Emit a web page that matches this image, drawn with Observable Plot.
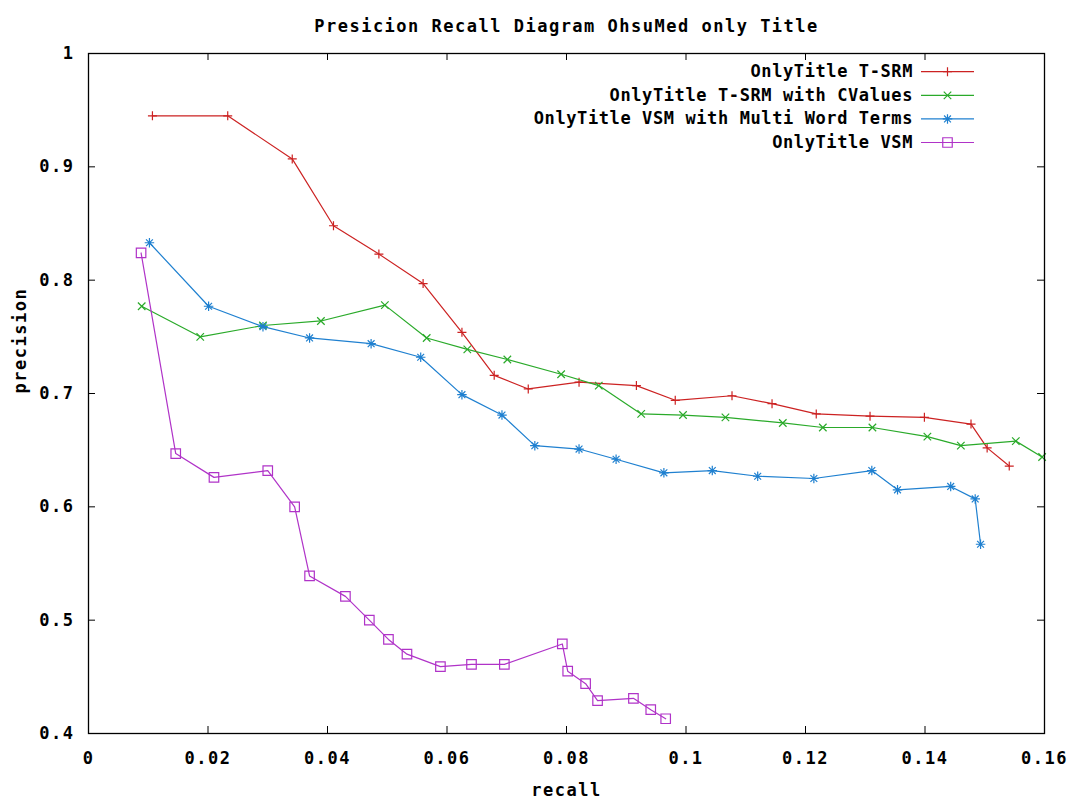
<!DOCTYPE html>
<html><head><meta charset="utf-8">
<script src="https://cdn.jsdelivr.net/npm/d3@7"></script>
<script src="https://cdn.jsdelivr.net/npm/@observablehq/plot@0.6"></script>
<style>body{margin:0;background:#fff}</style>
</head><body><div id="chart"></div>
<script>
const titleText = "Presicion Recall Diagram OhsuMed only Title";
const xLabel = "recall";
const yLabel = "precision";
const xTicks = [0, 0.02, 0.04, 0.06, 0.08, 0.1, 0.12, 0.14, 0.16];
const yTicks = [0.4, 0.5, 0.6, 0.7, 0.8, 0.9, 1];

const seriesNames = ["OnlyTitle T-SRM", "OnlyTitle T-SRM with CValues", "OnlyTitle VSM with Multi Word Terms", "OnlyTitle VSM"];
const seriesColors = ["#cc2222", "#2aaa2a", "#1f80d0", "#b033c8"];
const seriesSymbols = ["plus", "times", "star", "square"];

const tsrmRecall = [0.0107, 0.0233, 0.0341, 0.0410, 0.0486, 0.0560, 0.0625, 0.0679, 0.0736, 0.0821, 0.0917, 0.0982, 0.1077, 0.1144, 0.1218, 0.1308, 0.1399, 0.1477, 0.1504, 0.1541];
const tsrmPrecision = [0.945, 0.945, 0.907, 0.848, 0.823, 0.797, 0.754, 0.716, 0.704, 0.710, 0.707, 0.694, 0.698, 0.691, 0.682, 0.680, 0.679, 0.673, 0.652, 0.636];

const cvalRecall = [0.0089, 0.0187, 0.0292, 0.0389, 0.0496, 0.0566, 0.0634, 0.0701, 0.0791, 0.0854, 0.0925, 0.0995, 0.1066, 0.1162, 0.1229, 0.1312, 0.1404, 0.1460, 0.1552, 0.1596];
const cvalPrecision = [0.777, 0.750, 0.760, 0.764, 0.778, 0.749, 0.739, 0.730, 0.717, 0.707, 0.682, 0.681, 0.679, 0.674, 0.670, 0.670, 0.662, 0.654, 0.658, 0.644];

const mwtRecall = [0.0102, 0.0201, 0.0292, 0.0370, 0.0473, 0.0556, 0.0625, 0.0692, 0.0747, 0.0821, 0.0883, 0.0963, 0.1044, 0.1120, 0.1214, 0.1311, 0.1354, 0.1443, 0.1484, 0.1493];
const mwtPrecision = [0.833, 0.777, 0.759, 0.749, 0.744, 0.732, 0.699, 0.681, 0.654, 0.651, 0.642, 0.630, 0.632, 0.627, 0.625, 0.632, 0.615, 0.618, 0.607, 0.567];

const vsmRecall = [0.0088, 0.0146, 0.0210, 0.0300, 0.0345, 0.0370, 0.0430, 0.0470, 0.0502, 0.0533, 0.0589, 0.0641, 0.0696, 0.0793, 0.0802, 0.0832, 0.0852, 0.0912, 0.0941, 0.0966];
const vsmPrecision = [0.824, 0.647, 0.626, 0.632, 0.600, 0.539, 0.521, 0.500, 0.483, 0.470, 0.459, 0.461, 0.461, 0.479, 0.455, 0.444, 0.429, 0.431, 0.421, 0.413];

const recallSets = [tsrmRecall, cvalRecall, mwtRecall, vsmRecall];
const precisionSets = [tsrmPrecision, cvalPrecision, mwtPrecision, vsmPrecision];

// custom gnuplot-like point symbols
function rad(size) { return Math.sqrt(size / Math.PI); }
const symbolDefs = {
  plus: {draw(c, s) { const r = rad(s) * 0.9; c.moveTo(-r, 0); c.lineTo(r, 0); c.moveTo(0, -r); c.lineTo(0, r); }},
  times: {draw(c, s) { const r = rad(s) * 0.75; c.moveTo(-r, -r); c.lineTo(r, r); c.moveTo(-r, r); c.lineTo(r, -r); }},
  star: {draw(c, s) { const r = rad(s) * 0.95, q = r * 0.72; c.moveTo(-r, 0); c.lineTo(r, 0); c.moveTo(0, -r); c.lineTo(0, r); c.moveTo(-q, -q); c.lineTo(q, q); c.moveTo(-q, q); c.lineTo(q, -q); }},
  square: {draw(c, s) { const r = rad(s) * 0.95; c.moveTo(-r, -r); c.lineTo(r, -r); c.lineTo(r, r); c.lineTo(-r, r); c.closePath(); }}
};

const W = 1074, H = 802;
const mL = 88, mR = 30, mT = 53, mB = 69;
const innerW = W - mL - mR, innerH = H - mT - mB;
const tickLen = 7;

const marks = [];
seriesNames.forEach((name, i) => {
  const rows = recallSets[i].map((r, j) => ({recall: r, precision: precisionSets[i][j]}));
  marks.push(Plot.line(rows, {x: "recall", y: "precision", stroke: seriesColors[i], strokeWidth: 1.2}));
  marks.push(Plot.dot(rows, {x: "recall", y: "precision", stroke: seriesColors[i], fill: "none", strokeWidth: 1.2, r: 5, symbol: symbolDefs[seriesSymbols[i]]}));
});

const plot = Plot.plot({
  width: W, height: H,
  marginLeft: mL, marginRight: mR, marginTop: mT, marginBottom: mB,
  style: {fontFamily: "'DejaVu Sans Mono', monospace", fontSize: "17px", fontWeight: "bold", letterSpacing: "1.5px", background: "white", color: "black"},
  x: {domain: [0, 0.16], label: null},
  y: {domain: [0.4, 1], label: null},
  marks: [
    Plot.tickX(xTicks, {x: d => d, insetTop: innerH - tickLen, stroke: "black"}),
    Plot.tickX(xTicks, {x: d => d, insetBottom: innerH - tickLen, stroke: "black"}),
    Plot.tickY(yTicks, {y: d => d, insetRight: innerW - tickLen, stroke: "black"}),
    Plot.tickY(yTicks, {y: d => d, insetLeft: innerW - tickLen, stroke: "black"}),
    Plot.axisX(xTicks, {tickSize: 0, tickPadding: 18, tickFormat: d => String(d), fill: "black"}),
    Plot.axisY(yTicks, {tickSize: 0, tickPadding: 14, tickFormat: d => String(d), fill: "black"}),
    ...marks,
    Plot.frame({stroke: "black", strokeWidth: 1.3}),
    Plot.text([titleText], {text: d => d, frameAnchor: "top", dy: -34, fill: "black"}),
    Plot.text([xLabel], {text: d => d, frameAnchor: "bottom", dy: 62, fill: "black"}),
    Plot.text([yLabel], {text: d => d, frameAnchor: "left", dx: -68, rotate: -90, fill: "black"})
  ]
});

// legend (top-right, inside plot frame)
const svg = d3.select(plot);
const lg = svg.append("g").style("letter-spacing", "0.6px");
const rowY0 = 71.7, rowStep = 23.6, textEnd = 913, lineX1 = 921, lineX2 = 974;
seriesNames.forEach((name, i) => {
  const y = rowY0 + i * rowStep;
  lg.append("text").attr("x", textEnd).attr("y", y).attr("dy", "0.32em")
    .attr("text-anchor", "end").attr("fill", "black").text(name);
  lg.append("line").attr("x1", lineX1).attr("x2", lineX2).attr("y1", y).attr("y2", y)
    .attr("stroke", seriesColors[i]).attr("stroke-width", 1.2);
  lg.append("path").attr("transform", `translate(${(lineX1 + lineX2) / 2},${y})`)
    .attr("d", d3.symbol(symbolDefs[seriesSymbols[i]], 25 * Math.PI)())
    .attr("fill", "none").attr("stroke", seriesColors[i]).attr("stroke-width", 1.2);
});

document.getElementById("chart").appendChild(plot);
</script>
</body></html>
